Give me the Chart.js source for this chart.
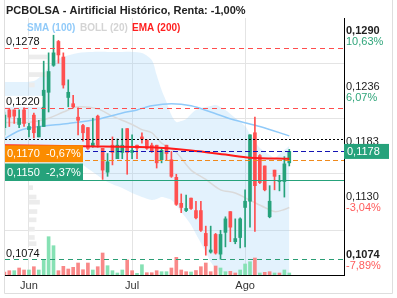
<!DOCTYPE html>
<html>
<head>
<meta charset="utf-8">
<script src="https://cdn.jsdelivr.net/npm/chart.js@4.4.1/dist/chart.umd.min.js"></script>
<style>
  html, body { margin: 0; padding: 0; background: #fff; }
  canvas { display: block; }
</style>
</head>
<body>
<canvas id="chart" width="397" height="298"></canvas>
<script>
// ---- data ---------------------------------------------------------------
const chartTitle = 'PCBOLSA - Airtificial Histórico, Renta: -1,00%';
const legendNames = ['SMA (100)', 'BOLL (20)', 'EMA (200)'];

// trading sessions are indexed 0..58; month starts get an axis label
const monthTicks = [5, 26, 49];
const monthLabels = ['Jun', 'Jul', 'Ago'];

const opens = [0.1201, 0.1218, 0.1218, 0.1204, 0.1218, 0.1199, 0.1213, 0.1192, 0.1202, 0.1235,
  0.1261, 0.1284, 0.1269, 0.1230, 0.1224, 0.1211, 0.1203, 0.1201, 0.1183, 0.1212,
  0.1181, 0.1158, 0.1184, 0.1171, 0.1177, 0.1200, 0.1177, 0.1184, 0.1192, 0.1189,
  0.1184, 0.1184, 0.1170, 0.1184, 0.1170, 0.1153, 0.1128, 0.1121, 0.1133, 0.1121,
  0.1121, 0.1099, 0.1081, 0.1098, 0.1079, 0.1100, 0.1120, 0.1091, 0.1095, 0.1124,
  0.1130, 0.1196, 0.1174, 0.1164, 0.1115, 0.1160, 0.1149, 0.1149, 0.1167];
const highs = [0.1216, 0.1219, 0.1218, 0.1218, 0.1220, 0.1205, 0.1215, 0.1208, 0.1265, 0.1273,
  0.1290, 0.1285, 0.1273, 0.1247, 0.1232, 0.1220, 0.1204, 0.1201, 0.1210, 0.1213,
  0.1181, 0.1176, 0.1192, 0.1190, 0.1200, 0.1200, 0.1194, 0.1184, 0.1196, 0.1189,
  0.1186, 0.1184, 0.1181, 0.1184, 0.1178, 0.1156, 0.1137, 0.1136, 0.1133, 0.1130,
  0.1130, 0.1106, 0.1106, 0.1099, 0.1102, 0.1115, 0.1120, 0.1113, 0.1114, 0.1141,
  0.1194, 0.1211, 0.1175, 0.1164, 0.1145, 0.1160, 0.1155, 0.1173, 0.1180];
const lows = [0.1194, 0.1202, 0.1205, 0.1201, 0.1202, 0.1192, 0.1191, 0.1192, 0.1202, 0.1216,
  0.1260, 0.1263, 0.1239, 0.1221, 0.1220, 0.1194, 0.1188, 0.1180, 0.1182, 0.1182,
  0.1151, 0.1154, 0.1165, 0.1171, 0.1171, 0.1156, 0.1171, 0.1171, 0.1186, 0.1180,
  0.1177, 0.1162, 0.1167, 0.1170, 0.1153, 0.1126, 0.1119, 0.1120, 0.1122, 0.1113,
  0.1101, 0.1078, 0.1080, 0.1079, 0.1074, 0.1086, 0.1091, 0.1089, 0.1085, 0.1086,
  0.1105, 0.1101, 0.1147, 0.1140, 0.1114, 0.1141, 0.1140, 0.1134, 0.1164];
const closes = [0.1213, 0.1211, 0.1212, 0.1210, 0.1205, 0.1202, 0.1196, 0.1202, 0.1237, 0.1255,
  0.1273, 0.1271, 0.1242, 0.1235, 0.1221, 0.1208, 0.1196, 0.1181, 0.1186, 0.1184,
  0.1160, 0.1168, 0.1177, 0.1184, 0.1184, 0.1177, 0.1179, 0.1181, 0.1190, 0.1181,
  0.1178, 0.1167, 0.1179, 0.1176, 0.1154, 0.1127, 0.1124, 0.1123, 0.1123, 0.1114,
  0.1102, 0.1087, 0.1083, 0.1080, 0.1098, 0.1113, 0.1105, 0.1094, 0.1113, 0.1130,
  0.1194, 0.1145, 0.1148, 0.1141, 0.1130, 0.1154, 0.1150, 0.1166, 0.1178];

// traded volume (thousand shares) and whether the bar is drawn as an up bar
const volumes = [150, 215, 215, 350, 250, 250, 415, 250, 750, 1915,
  1465, 215, 435, 300, 385, 600, 265, 600, 250, 415,
  1100, 465, 215, 100, 250, 750, 215, 85, 515, 115,
  115, 215, 165, 165, 350, 885, 250, 165, 150, 225,
  415, 600, 165, 450, 350, 165, 185, 100, 250, 550,
  665, 850, 100, 135, 165, 100, 100, 250, 100];
const volumeUp = [0, 0, 1, 0, 0, 1, 0, 1, 1, 1,
  1, 0, 0, 0, 0, 0, 0, 0, 1, 0,
  0, 1, 1, 1, 1, 0, 0, 1, 1, 0,
  0, 0, 1, 1, 0, 0, 0, 0, 1, 0,
  0, 0, 0, 0, 1, 1, 0, 0, 1, 1,
  1, 0, 1, 0, 0, 1, 0, 1, 1];

// indicator curves, sampled at session indexes
const smaIdx = [0, 3, 7, 13, 19, 24, 27, 30, 34, 38, 42, 47, 52, 58];
const smaValues = [0.1190, 0.1198, 0.1202, 0.1205, 0.1209, 0.1215, 0.1218, 0.1222, 0.1224, 0.1222,
  0.1216, 0.1208, 0.1202, 0.1193];

const bollMidIdx = [0, 5, 9, 12, 15, 19, 22, 26, 28, 30, 32, 35, 38, 41, 44, 47, 50, 53, 55, 57, 58];
const bollMidValues = [0.1206, 0.1206, 0.1210, 0.1216, 0.1221, 0.1219, 0.1212, 0.1204, 0.1199, 0.1196,
  0.1186, 0.1177, 0.1160, 0.1151, 0.1141, 0.1138, 0.1131, 0.1124, 0.1120, 0.1122, 0.1124];

const bandIdx = [0, 6, 8, 10, 12, 15, 18, 21, 24, 26, 28, 30, 31, 32, 33, 34, 35, 36, 37, 38,
  39, 40, 41, 42, 43, 44, 45, 47, 49, 50, 51, 52, 54, 55, 56, 58];
const bandUpper = [0.12449, 0.12459, 0.12536, 0.12642, 0.12690, 0.12729, 0.12739, 0.12739, 0.12739, 0.12739,
  0.12729, 0.12661, 0.12517, 0.12372, 0.12257, 0.12131, 0.12064, 0.12073, 0.12093, 0.12141,
  0.12179, 0.12199, 0.12208, 0.12218, 0.12228, 0.12208, 0.12179, 0.12102, 0.12025, 0.11948,
  0.11881, 0.11813, 0.11746, 0.11717, 0.11755, 0.11832];
const bandLower = [0.11678, 0.11669, 0.11630, 0.11582, 0.11630, 0.11669, 0.11582, 0.11485, 0.11427, 0.11379,
  0.11341, 0.11312, 0.11321, 0.11341, 0.11331, 0.11312, 0.11264, 0.11196, 0.11138, 0.11071,
  0.10984, 0.10897, 0.10811, 0.10714, 0.10656, 0.10618, 0.10608, 0.10589, 0.10560, 0.10541,
  0.10531, 0.10521, 0.10521, 0.10531, 0.10541, 0.10579];

const emaIdx = [0, 16, 30, 38, 45, 50, 58];
const emaValues = [0.1184, 0.1183, 0.1182, 0.1179, 0.1175, 0.1172, 0.1171];

// volume-at-price profile (thousand shares per price bin)
const profilePrices = [0.1271, 0.1254, 0.1244, 0.1145, 0.1136, 0.1131, 0.1122, 0.1114, 0.1105, 0.1097, 0.1091];
const profileVolumes = [840, 1000, 240, 160, 320, 480, 360, 320, 240, 240, 320];

// price axis ticks and their change versus the reference price
const priceTicks = [0.1290, 0.1236, 0.1183, 0.1130, 0.1074];
const priceTickChange = ['10,63%', '6,07%', '1,46%', '-3,04%', '-7,89%'];

// drawn levels
const resistanceLevels = [0.1278, 0.1220];
const supportLevel = 0.1074;
const previousCloseLevel = 0.1190;
const lastPrice = 0.1178;
const alertLevels = [0.1170, 0.1150];
const alertChange = ['-0,67%', '-2,37%'];

// ---- styling ------------------------------------------------------------
const FONT = '"Liberation Sans", Arial, sans-serif';
const UP = '#26a27b';
const DOWN = '#ff5050';
const VOL_UP = '#86e1b4';
const VOL_DOWN = '#f98888';
const legendColors = ['#90caf9', '#d4d4d4', '#ff1f1f'];

const fmt = v => v.toFixed(4).replace('.', ',');
const pts = (xs, ys) => xs.map((x, i) => ({ x, y: ys[i] }));
const candleColors = closes.map((c, i) => c >= opens[i] ? UP : DOWN);

const overlay = {
  id: 'overlay',
  beforeDraw(chart) {
    const c = chart.ctx;
    c.save();
    c.fillStyle = '#fff';
    c.fillRect(0, 0, chart.width, chart.height);
    c.strokeStyle = '#dedede';
    c.lineWidth = 1;
    c.beginPath();
    c.moveTo(4.5, 0); c.lineTo(4.5, 293.5); c.lineTo(392.5, 293.5); c.lineTo(392.5, 0);
    c.stroke();
    c.restore();
  },
  afterDatasetsDraw(chart) {
    const { ctx: c, chartArea: a } = chart;
    const y = chart.scales.y;
    const hline = (v, color, dash, w) => {
      const py = Math.round(y.getPixelForValue(v)) + 0.5;
      c.save();
      c.strokeStyle = color; c.lineWidth = w || 1; c.setLineDash(dash);
      c.beginPath(); c.moveTo(a.left, py); c.lineTo(a.right, py); c.stroke();
      c.restore();
    };
    resistanceLevels.forEach(v => hline(v, '#ff4d4d', [5, 4]));
    hline(supportLevel, '#2a9d74', [5, 4]);
    hline(previousCloseLevel, '#000', [2, 2]);
    hline(lastPrice, '#1414b4', [5, 3]);
    hline(alertLevels[0], '#f08a1c', [5, 3]);
    hline(alertLevels[1], '#26a27b', []);
  },
  afterDraw(chart) {
    const { ctx: c, chartArea: a } = chart;
    const y = chart.scales.y;
    c.save();

    // title and indicator legend
    c.textBaseline = 'middle';
    c.textAlign = 'left';
    c.font = 'bold 11px ' + FONT;
    c.fillStyle = '#222';
    c.fillText(chartTitle, 6, 11);
    c.font = 'bold 10px ' + FONT;
    const legendX = [27, 80, 132];
    legendNames.forEach((n, i) => { c.fillStyle = legendColors[i]; c.fillText(n, legendX[i], 28); });

    // price axis labels with change below
    const hi = Math.max(...priceTicks), lo = Math.min(...priceTicks);
    c.textBaseline = 'alphabetic';
    priceTicks.forEach((v, i) => {
      const py = y.getPixelForValue(v);
      c.font = (v === hi || v === lo ? 'bold ' : '') + '11px ' + FONT;
      c.fillStyle = '#222';
      c.fillText(fmt(v), a.right + 2, py - 1.5);
      c.font = '11px ' + FONT;
      c.fillStyle = priceTickChange[i].startsWith('-') ? '#ff5c5c' : '#2fa57a';
      c.fillText(priceTickChange[i], a.right + 2, py + 9.5);
    });

    // last price tag on the axis
    c.font = '11px ' + FONT;
    const lp = y.getPixelForValue(lastPrice);
    c.fillStyle = UP;
    c.fillRect(a.right, lp - 7.5, 45, 15);
    c.fillStyle = '#fff';
    c.textBaseline = 'middle';
    c.fillText(fmt(lastPrice), a.right + 3, lp + 0.5);

    // alert tags on the left
    const tagColors = ['#fb8c00', UP];
    const tagTop = [-14.5, -17];
    alertLevels.forEach((v, i) => {
      const py = y.getPixelForValue(v);
      c.fillStyle = tagColors[i];
      c.fillRect(a.left, py + tagTop[i], 78, 17);
      c.fillStyle = '#fff';
      c.fillText(fmt(v) + '  ' + alertChange[i], a.left + 2, py + tagTop[i] + 9);
    });

    // level captions above the dashed lines
    c.textBaseline = 'alphabetic';
    [...resistanceLevels, supportLevel].forEach(v => {
      const py = y.getPixelForValue(v);
      const t = fmt(v);
      const w = c.measureText(t).width;
      c.fillStyle = '#fff';
      c.fillRect(a.left, py - 12, w + 4, 11);
      c.fillStyle = '#111';
      c.fillText(t, a.left + 1, py - 2.5);
    });
    c.restore();
  }
};

new Chart(document.getElementById('chart'), {
  type: 'bar',
  data: {
    datasets: [
      { type: 'line', label: 'BOLL upper', data: pts(bandIdx, bandUpper), borderWidth: 0,
        pointRadius: 0, fill: false, tension: 0.3, order: 20 },
      { type: 'line', label: 'BOLL lower', data: pts(bandIdx, bandLower), borderWidth: 0,
        pointRadius: 0, fill: '-1', backgroundColor: 'rgba(144,202,249,0.25)', tension: 0.3, order: 19 },
      { type: 'bar', label: 'Profile', indexAxis: 'y', xAxisID: 'xp', yAxisID: 'y',
        data: profilePrices.map((p, i) => ({ x: profileVolumes[i], y: p })),
        backgroundColor: '#ececec', barThickness: 4, order: 18 },
      { type: 'line', label: legendNames[1], data: pts(bollMidIdx, bollMidValues), borderColor: '#dadada',
        borderWidth: 1.5, pointRadius: 0, tension: 0.3, order: 17 },
      { type: 'line', label: legendNames[0], data: pts(smaIdx, smaValues), borderColor: '#90caf9',
        borderWidth: 1.5, pointRadius: 0, tension: 0.3, order: 16 },
      { type: 'bar', label: 'Volumen', yAxisID: 'yv', data: volumes.map((v, i) => ({ x: i, y: v })),
        backgroundColor: volumeUp.map(u => u ? VOL_UP : VOL_DOWN), grouped: false,
        barThickness: 3, maxBarThickness: 3, order: 15 },
      { type: 'bar', label: 'Mecha', data: lows.map((l, i) => ({ x: i, y: [l, highs[i]] })),
        backgroundColor: candleColors, grouped: false, barThickness: 1, maxBarThickness: 1, order: 14 },
      { type: 'bar', label: 'Cuerpo', data: opens.map((o, i) => ({ x: i, y: [o, closes[i]] })),
        backgroundColor: candleColors, grouped: false, barThickness: 3, maxBarThickness: 3,
        minBarLength: 1, order: 13 },
      { type: 'line', label: legendNames[2], data: pts(emaIdx, emaValues), borderColor: '#ff1a1a',
        borderWidth: 2, pointRadius: 0, tension: 0.3, order: 12 }
    ]
  },
  options: {
    responsive: false,
    devicePixelRatio: 1,
    animation: false,
    layout: { padding: { left: 5, top: 18, right: 0, bottom: 0 } },
    plugins: { legend: { display: false }, title: { display: false }, tooltip: { enabled: false } },
    scales: {
      x: {
        type: 'linear', min: 0.122, max: 69.14, offset: false,
        afterBuildTicks: s => { s.ticks = monthTicks.map(v => ({ value: v })); },
        afterFit: s => { s.height = 23; },
        ticks: { callback: (v, i) => monthLabels[i], color: '#333', font: { family: FONT, size: 11 },
          padding: 4, maxRotation: 0, autoSkip: false },
        grid: { color: '#e4e4e4', drawTicks: false, offset: false },
        border: { color: '#000', width: 1 }
      },
      y: {
        type: 'linear', position: 'right', min: 0.10589, max: 0.13066, offset: false,
        afterBuildTicks: s => { s.ticks = priceTicks.map(v => ({ value: v })); },
        afterFit: s => { s.width = 53; },
        ticks: { display: false },
        grid: { color: '#e4e4e4', drawTicks: false },
        border: { color: '#000', width: 1 }
      },
      yv: { type: 'linear', display: false, min: 0, max: 12850 },
      xp: { type: 'linear', display: false, min: 0, max: 13560 }
    }
  },
  plugins: [overlay]
});
</script>
</body>
</html>
